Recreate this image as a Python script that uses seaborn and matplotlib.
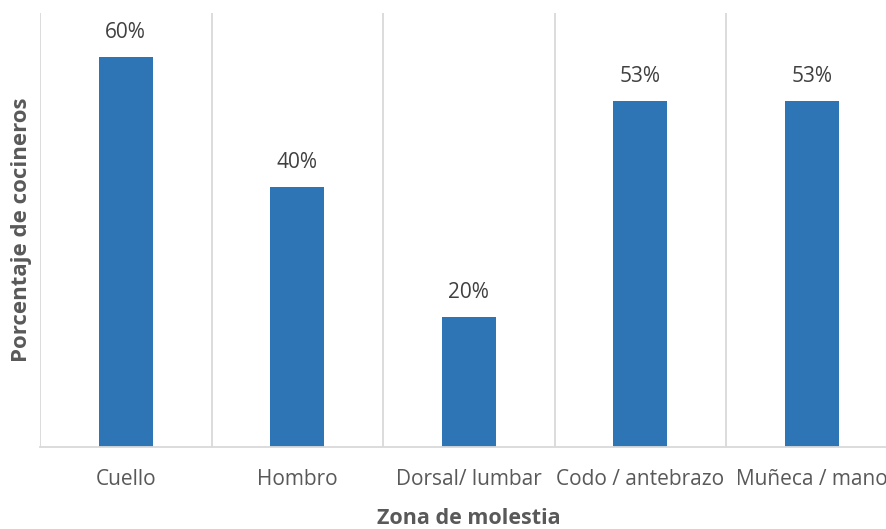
import numpy as np
import pandas as pd
import matplotlib
matplotlib.use("Agg")
import matplotlib.pyplot as plt
import seaborn as sns

# datos
zonas = ["Cuello", "Hombro", "Dorsal/ lumbar", "Codo / antebrazo", "Muñeca / mano"]
porcentajes = [0.60, 0.40, 0.20, 0.533, 0.533]
etiquetas = ["60%", "40%", "20%", "53%", "53%"]

df = pd.DataFrame({"zona": zonas, "pct": porcentajes})

sns.set_theme(style="white")
plt.rcParams['font.family'] = ['Open Sans', 'DejaVu Sans']

gris = "#595959"
fig = plt.figure(figsize=(8.87, 5.29), dpi=100)
ax = fig.add_axes([40 / 887, 82 / 529, 857.5 / 887, 434 / 529])

sns.barplot(data=df, x="zona", y="pct", color="#2E75B6", width=0.315,
            saturation=1, linewidth=0, ax=ax)
ax.bar_label(ax.containers[0], labels=etiquetas, padding=10,
             fontsize=15, color="#404040")

ax.set_ylim(0, 0.668)
ax.set_xlim(-0.5, 4.5)
ax.set_yticks([])
ax.set_xticks(np.arange(-0.5, 5, 1), minor=True)
ax.grid(True, which="minor", axis="x", color="#D9D9D9", linewidth=1.3)
ax.grid(False, which="major")
ax.tick_params(axis="x", which="both", length=0, labelsize=15,
               labelcolor=gris, pad=16)
for s in ["top", "right", "left"]:
    ax.spines[s].set_visible(False)
ax.spines["bottom"].set_color("#D9D9D9")
ax.spines["bottom"].set_linewidth(1.3)

ax.set_xlabel("Zona de molestia", fontsize=15.5, fontweight="bold",
              color=gris, labelpad=13)
ax.set_ylabel("Porcentaje de cocineros", fontsize=16, fontweight="bold",
              color=gris, labelpad=6)

fig.savefig("out.png", dpi=100)
